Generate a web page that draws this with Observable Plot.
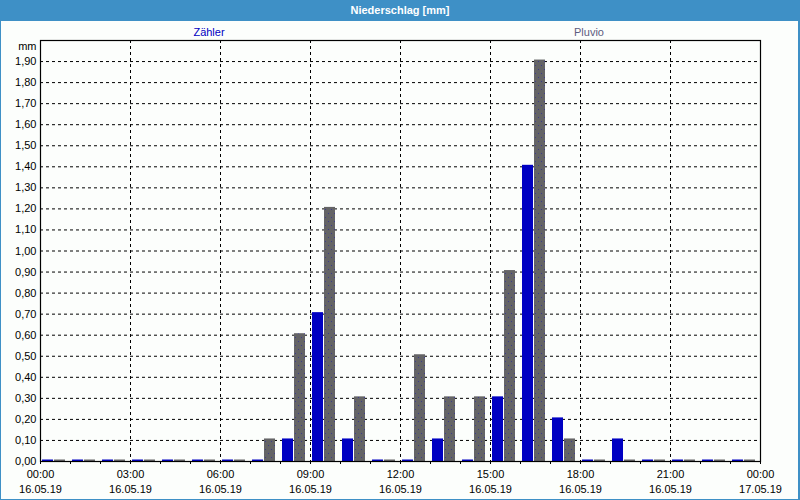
<!DOCTYPE html>
<html>
<head>
<meta charset="utf-8">
<script src="https://cdn.jsdelivr.net/npm/d3@7"></script>
<script src="https://cdn.jsdelivr.net/npm/@observablehq/plot@0.6"></script>
<style>
  html, body { margin: 0; padding: 0; background: #fcfefc; }
  #wrap { position: relative; width: 800px; height: 500px; overflow: hidden; background: #fcfefc;
          font-family: "Liberation Sans", Arial, sans-serif; }
  #wrap svg { position: absolute; left: 0; top: 0; }
  #titlebar { position: absolute; left: 0; top: 0; width: 800px; height: 21px; background: #3e90c6;
              color: #ffffff; font-weight: bold; font-size: 11px; line-height: 21px; text-align: center; }
  .legend { position: absolute; top: 25px; font-size: 11px; line-height: 14px; transform: translateX(-50%); white-space: nowrap; }
  #borderL { position: absolute; left: 0; top: 0; width: 1px; height: 500px; background: #3e90c6; }
  #borderR { position: absolute; right: 0; top: 0; width: 2px; height: 500px; background: #3e90c6; }
  #borderB { position: absolute; left: 0; bottom: 0; width: 800px; height: 1px; background: #3e90c6; }
</style>
</head>
<body>
<div id="wrap"></div>
<script>
// ---- data ----
const title = "Niederschlag [mm]";
const yUnit = "mm";
const seriesNames = ["Zähler", "Pluvio"];
const hours = [0, 1, 2, 3, 4, 5, 6, 7, 8, 9, 10, 11, 12, 13, 14, 15, 16, 17, 18, 19, 20, 21, 22, 23];
const zaehler = [0, 0, 0, 0, 0, 0, 0, 0, 0.1, 0.7, 0.1, 0, 0, 0.1, 0, 0.3, 1.4, 0.2, 0, 0.1, 0, 0, 0, 0];
const pluvio  = [0, 0, 0, 0, 0, 0, 0, 0.1, 0.6, 1.2, 0.3, 0, 0.5, 0.3, 0.3, 0.9, 1.9, 0.1, 0, 0, 0, 0, 0, 0];
const yTicks = [0, 0.1, 0.2, 0.3, 0.4, 0.5, 0.6, 0.7, 0.8, 0.9, 1.0, 1.1, 1.2, 1.3, 1.4, 1.5, 1.6, 1.7, 1.8, 1.9];
const xTickHours = [0, 3, 6, 9, 12, 15, 18, 21, 24];
const xTickTimes = ["00:00", "03:00", "06:00", "09:00", "12:00", "15:00", "18:00", "21:00", "00:00"];
const xTickDates = ["16.05.19", "16.05.19", "16.05.19", "16.05.19", "16.05.19", "16.05.19", "16.05.19", "16.05.19", "17.05.19"];
const hourTicks = [0, 1, 2, 3, 4, 5, 6, 7, 8, 9, 10, 11, 12, 13, 14, 15, 16, 17, 18, 19, 20, 21, 22, 23, 24];

const zData = hours.map((h, i) => ({hour: h, value: zaehler[i]}));
const pData = hours.map((h, i) => ({hour: h, value: pluvio[i]}));
const xLabelData = xTickHours.map((h, i) => ({hour: h, time: xTickTimes[i], date: xTickDates[i]}));

const blue = "#0000c2";
const fmt = v => d3.format(".2f")(v).replace(".", ",");

const chart = Plot.plot({
  width: 800,
  height: 500,
  marginTop: 40,
  marginBottom: 39,
  marginLeft: 40,
  marginRight: 40,
  style: {fontFamily: "'Liberation Sans', Arial, sans-serif", fontSize: "11px", color: "#000", background: "transparent"},
  x: {domain: [0, 24], axis: null},
  y: {domain: [0, 2], axis: null},
  marks: [
    Plot.gridY(yTicks.slice(1), {stroke: "#000", strokeOpacity: 1, strokeDasharray: "3,3"}),
    Plot.gridX(xTickHours.slice(1, -1), {stroke: "#000", strokeOpacity: 1, strokeDasharray: "3,3"}),
    Plot.rectY(zData, {x1: "hour", x2: d => d.hour + 1, y: "value", fill: blue, insetLeft: 2, insetRight: 17, insetTop: -1.5}),
    Plot.rectY(pData, {x1: "hour", x2: d => d.hour + 1, y: "value", fill: "url(#pluvioDots)", insetLeft: 14, insetRight: 5, insetTop: -1.5}),
    Plot.frame({stroke: "#000", strokeWidth: 1.2}),
    Plot.axisY(yTicks, {tickSize: 0, tickPadding: 4, tickFormat: fmt, label: null, fill: "#000"}),
    Plot.axisX(hourTicks, {tickSize: 3, tickFormat: () => "", label: null, stroke: "#000"}),
    Plot.text(xLabelData, {x: "hour", text: "time", frameAnchor: "bottom", lineAnchor: "middle", dy: 13, fill: "#000"}),
    Plot.text(xLabelData, {x: "hour", text: "date", frameAnchor: "bottom", lineAnchor: "middle", dy: 28, fill: "#000"}),
    Plot.text([yUnit], {frameAnchor: "top-left", textAnchor: "end", lineAnchor: "middle", dx: -4, dy: 6, fill: "#000"})
  ]
});

// pattern for the Pluvio bars (grey with small blue dots)
const ns = "http://www.w3.org/2000/svg";
const defs = document.createElementNS(ns, "defs");
const pat = document.createElementNS(ns, "pattern");
pat.setAttribute("id", "pluvioDots");
pat.setAttribute("patternUnits", "userSpaceOnUse");
pat.setAttribute("width", "6");
pat.setAttribute("height", "8");
const bg = document.createElementNS(ns, "rect");
bg.setAttribute("width", "6"); bg.setAttribute("height", "8"); bg.setAttribute("fill", "#646466");
pat.appendChild(bg);
[[1, 1], [4, 5]].forEach(([cx, cy]) => {
  const r = document.createElementNS(ns, "rect");
  r.setAttribute("x", cx); r.setAttribute("y", cy); r.setAttribute("width", "1"); r.setAttribute("height", "1");
  r.setAttribute("fill", "#3c3c8c");
  pat.appendChild(r);
});
defs.appendChild(pat);
chart.insertBefore(defs, chart.firstChild);

const wrap = document.getElementById("wrap");
wrap.appendChild(chart);

const tb = document.createElement("div");
tb.id = "titlebar"; tb.textContent = title;
wrap.appendChild(tb);

const legendPos = [209, 589];
const legendColors = [blue, "#5c5c80"];
seriesNames.forEach((n, i) => {
  const d = document.createElement("div");
  d.className = "legend";
  d.style.left = legendPos[i] + "px";
  d.style.color = legendColors[i];
  d.textContent = n;
  wrap.appendChild(d);
});
["borderL", "borderR", "borderB"].forEach(id => {
  const d = document.createElement("div"); d.id = id; wrap.appendChild(d);
});
</script>
</body>
</html>
